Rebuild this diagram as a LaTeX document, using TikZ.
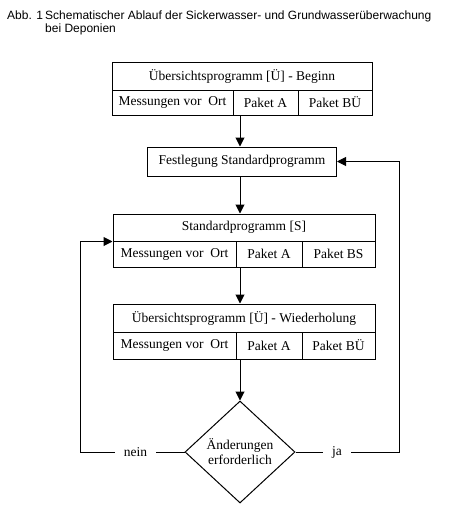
\documentclass[tikz,border=0pt]{standalone}
\usepackage{fontspec}
\setmainfont{Liberation Serif}
\newfontfamily\headfont{Liberation Sans}
\usetikzlibrary{arrows.meta,shapes.geometric}

\tikzset{
  cell/.style={draw,line width=1pt,inner sep=0pt,font=\fontsize{13.5}{15}\selectfont},
  arr/.style={line width=1pt,-{Triangle[length=9pt,width=9pt]}},
  conn/.style={line width=1pt},
  lbl/.style={fill=white,inner xsep=9pt,inner ysep=1pt,font=\fontsize{13.5}{15}\selectfont},
  head/.style={anchor=base west,inner sep=0pt,font=\headfont\fontsize{12}{13.5}\selectfont}
}

\begin{document}
\begin{tikzpicture}[x=1pt,y=-1pt]
\useasboundingbox (0,0) rectangle (452,512);
% title
\node[head] (abb) at (7,19) {Abb. 1};
\node[head] (ttl) at (45,19) {Schematischer Ablauf der Sickerwasser- und Grundwasserüberwachung};
\node[head] (ttl2) at (45,32.5) {bei Deponien};
% Uebersicht - Beginn
\node[cell,minimum width=260,minimum height=28] (b1t) at (242,76) {Übersichtsprogramm [Ü] - Beginn};
\node[cell,minimum width=121,minimum height=25] (b1a) at (172.5,102.5) {Messungen vor\ \ Ort};
\node[cell,minimum width=65,minimum height=25] (b1b) at (265.5,102.5) {Paket A};
\node[cell,minimum width=74,minimum height=25] (b1c) at (335,102.5) {Paket BÜ};
% Festlegung
\node[cell,minimum width=189,minimum height=29] (fest) at (242,161.5) {Festlegung Standardprogramm};
% Standardprogramm
\node[cell,minimum width=262,minimum height=27] (b3t) at (244,227.5) {Standardprogramm [S]};
\node[cell,minimum width=123,minimum height=26] (b3a) at (174.5,254) {Messungen vor\ \ Ort};
\node[cell,minimum width=66,minimum height=26] (b3b) at (269,254) {Paket A};
\node[cell,minimum width=73,minimum height=26] (b3c) at (338.5,254) {Paket BS};
% Uebersicht - Wiederholung
\node[cell,minimum width=262,minimum height=28] (b4t) at (244,318) {Übersichtsprogramm [Ü] - Wiederholung};
\node[cell,minimum width=123,minimum height=27] (b4a) at (174.5,345.5) {Messungen vor\ \ Ort};
\node[cell,minimum width=66,minimum height=27] (b4b) at (269,345.5) {Paket A};
\node[cell,minimum width=73,minimum height=27] (b4c) at (338.5,345.5) {Paket BÜ};
% Entscheidung
\node[cell,diamond,minimum width=110,minimum height=102,align=center] (dmd) at (240,452) {Änderungen\\erforderlich};
\coordinate (lft) at (80,452);
\coordinate (rgt) at (399,452);
% Pfeile
\draw[arr] (dmd.north |- b1b.south) -- (dmd.north |- fest.north);
\draw[arr] (dmd.north |- fest.south) -- (dmd.north |- b3t.north);
\draw[arr] (dmd.north |- b3b.south) -- (dmd.north |- b4t.north);
\draw[arr] (dmd.north |- b4b.south) -- (dmd.north);
\draw[arr] (dmd.west) -- node[lbl,pos=0.47] {nein} (lft) |- (b3t.south west);
\draw[arr] (dmd.east) -- node[lbl,pos=0.4] {ja} (rgt) |- (fest.east);
\end{tikzpicture}
\end{document}
